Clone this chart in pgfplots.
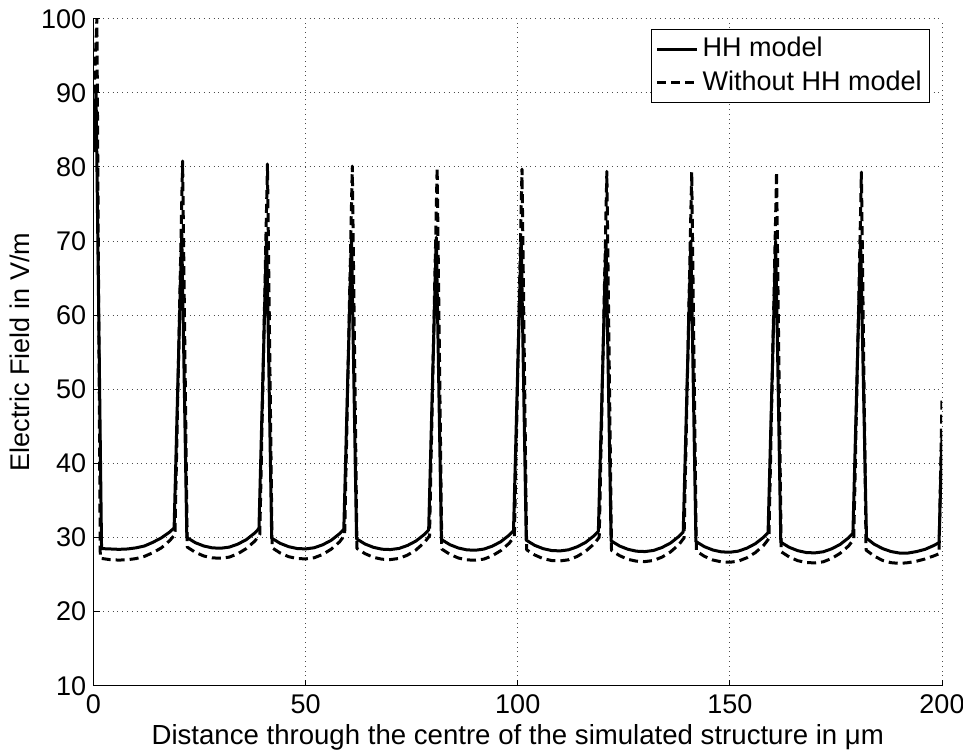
\documentclass[border=0pt]{standalone}
\usepackage{fontspec}
\setmainfont{Liberation Sans}
\usepackage{pgfplots}
\pgfplotsset{compat=1.18}
\begin{document}
\fontsize{13.5}{16}\selectfont
\begin{tikzpicture}
\begin{axis}[
  at={(0,0)}, anchor=south west,
  scale only axis, width=424.25pt, height=333.5pt,
  xmin=0, xmax=200, ymin=10, ymax=100,
  xtick={0,50,...,200}, ytick={10,20,...,100},
  axis x line*=bottom, axis y line*=left,
  axis line style={line width=0.5pt, -},
  tick align=inside, major tick length=3pt,
  tick style={black, line width=0.5pt},
  grid=major, grid style={dotted, black!70, line width=0.5pt},
  /pgf/number format/assume math mode=true,
  ticklabel style={font=\fontsize{13.5}{16}\selectfont},
  yticklabel style={xshift=1pt},
  xlabel={Distance through the centre of the simulated structure in μm},
  ylabel={Electric Field in V/m},
  xlabel style={at={(axis description cs:0.5,-0.078)}, anchor=center, font=\fontsize{13.8}{16}\selectfont},
  ylabel style={at={(axis description cs:-0.0866,0.5)}, anchor=center, font=\fontsize{13.5}{16}\selectfont},
  legend style={at={(axis description cs:0.986,0.985)}, anchor=north east, draw=black, line width=0.5pt,
    font=\fontsize{13.5}{16}\selectfont, inner sep=2pt, row sep=1pt, cells={anchor=west}},
  legend image code/.code={\draw[#1] (0pt,0pt) -- (20pt,0pt);},
]
\addplot[black, line width=1.5pt, line join=round] coordinates {
(0,82) (0.6,90) (1.9,28.5) (4,28.45) (6,28.4) (8,28.45) (10,28.6) (12,28.85) (14,29.35) (16,29.95) (18,30.75) (19,31.3) (20.8,71)
(22,30.0) (24,29.3) (26,28.85) (28,28.6) (30,28.55) (32,28.7) (34,29.1) (36,29.7) (38,30.6) (39,31.2) (40.8,71)
(42,29.91) (44,29.21) (46,28.76) (48,28.51) (50,28.46) (52,28.61) (54,29.01) (56,29.61) (58,30.51) (59,31.11) (60.8,70.5)
(62,29.82) (64,29.12) (66,28.67) (68,28.42) (70,28.37) (72,28.52) (74,28.92) (76,29.52) (78,30.42) (79,31.02) (80.8,70.5)
(82,29.73) (84,29.03) (86,28.58) (88,28.33) (90,28.28) (92,28.43) (94,28.83) (96,29.43) (98,30.33) (99,30.93) (100.8,70.5)
(102,29.64) (104,28.94) (106,28.49) (108,28.24) (110,28.19) (112,28.34) (114,28.74) (116,29.34) (118,30.24) (119,30.84) (120.8,70)
(122,29.55) (124,28.85) (126,28.4) (128,28.15) (130,28.1) (132,28.25) (134,28.65) (136,29.25) (138,30.15) (139,30.75) (140.8,70)
(142,29.46) (144,28.76) (146,28.31) (148,28.06) (150,28.01) (152,28.16) (154,28.56) (156,29.16) (158,30.06) (159,30.66) (160.8,70)
(162,29.37) (164,28.67) (166,28.22) (168,27.97) (170,27.92) (172,28.07) (174,28.47) (176,29.07) (178,29.97) (179,30.57) (180.8,70)
(182.2,29.9) (184,29.1) (186,28.5) (188,28.1) (190,27.9) (192,27.9) (194,28.1) (196,28.4) (198,28.9) (199.3,29.3) (200,44)
};
\addlegendentry{HH model}
\addplot[black, line width=1.5pt, dash pattern=on 4.5pt off 2.5pt, line join=round] coordinates {
(0,88) (0.8,100) (1.6,27.2) (4,27.0) (6,26.95) (8,27.0) (10,27.15) (12,27.45) (14,27.95) (16,28.6) (18,29.6) (19.2,30.4) (21,80.8)
(22.1,28.7) (24,28.0) (26,27.5) (28,27.25) (30,27.2) (32,27.35) (34,27.8) (36,28.5) (38,29.5) (39.2,30.4) (41,80.4)
(42.1,28.61) (44,27.91) (46,27.41) (48,27.16) (50,27.11) (52,27.26) (54,27.71) (56,28.41) (58,29.41) (59.2,30.31) (61,80.1)
(62.1,28.52) (64,27.82) (66,27.32) (68,27.07) (70,27.02) (72,27.17) (74,27.62) (76,28.32) (78,29.32) (79.2,30.22) (81,79.9)
(82.1,28.43) (84,27.73) (86,27.23) (88,26.98) (90,26.93) (92,27.08) (94,27.53) (96,28.23) (98,29.23) (99.2,30.13) (101,79.7)
(102.1,28.34) (104,27.64) (106,27.14) (108,26.89) (110,26.84) (112,26.99) (114,27.44) (116,28.14) (118,29.14) (119.2,30.04) (121,79.4)
(122.1,28.25) (124,27.55) (126,27.05) (128,26.8) (130,26.75) (132,26.9) (134,27.35) (136,28.05) (138,29.05) (139.2,29.95) (141,79.3)
(142.1,28.16) (144,27.46) (146,26.96) (148,26.71) (150,26.66) (152,26.81) (154,27.26) (156,27.96) (158,28.96) (159.2,29.86) (161,79.3)
(162.1,28.07) (164,27.37) (166,26.87) (168,26.62) (170,26.57) (172,26.72) (174,27.17) (176,27.87) (178,28.87) (179.2,29.77) (181,79.3)
(182.1,28.3) (184,27.5) (186,26.9) (188,26.6) (190,26.5) (192,26.6) (194,26.8) (196,27.1) (198,27.5) (199.3,27.8) (200,49)
};
\addlegendentry{Without HH model}
\end{axis}
\pgfresetboundingbox
\useasboundingbox (-46.75pt,-32.5pt) rectangle (434.75pt,342.85pt);
\end{tikzpicture}
\end{document}
